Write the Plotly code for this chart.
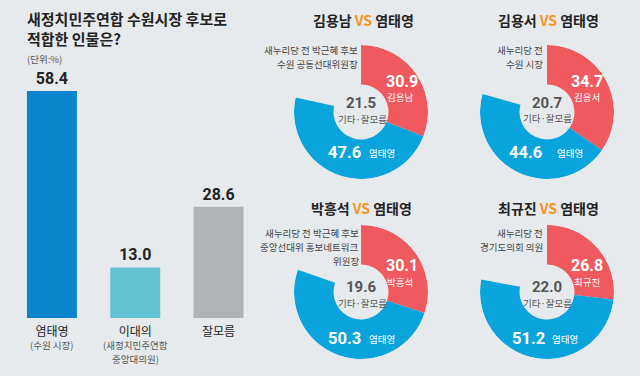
import plotly.graph_objects as go

# ---------------- data ----------------
bar_names = ["염태영", "이대의", "잘모름"]
bar_subs = ["(수원 시장)", "(새정치민주연합<br>중앙대의원)", ""]
bar_values = [58.4, 13.0, 28.6]
bar_colors = ["#0A84CC", "#63C3D2", "#B1B2B6"]

challengers = ["김용남", "김용서", "박흥석", "최규진"]
challenger_desc = [
    "새누리당 전 박근혜 후보<br>수원 공동선대위원장",
    "새누리당 전<br>수원 시장",
    "새누리당 전 박근혜 후보<br>중앙선대위 홍보네트워크<br>위원장",
    "새누리당 전<br>경기도의회 의원",
]
challenger_values = [30.9, 34.7, 30.1, 26.8]
yeom_values = [47.6, 44.6, 50.3, 51.2]
other_values = [21.5, 20.7, 19.6, 22.0]
incumbent = "염태영"
other_label = "기타·잘모름"

title_text = "새정치민주연합 수원시장 후보로<br>적합한 인물은?"
unit_text = "(단위:%)"

# ---------------- style ----------------
W, H = 640, 376
BG = "#E7EAED"
RED = "#F05A5F"
BLUE = "#0AA4DD"
ORANGE = "#F7941D"
FONT = "Noto Sans CJK KR"
NUMFONT = "Roboto"
HOLE = 0.41


def px(x):
    return x / W


def py(y):
    return (H - y) / H


fig = go.Figure()
annotations = []


def ann(x, y, text, size, color="#222", xanchor="center", align="center",
        yanchor="middle", xref="paper", family=FONT):
    annotations.append(dict(
        x=x if xref != "paper" else px(x), y=py(y), xref=xref, yref="paper",
        text=text, showarrow=False, xanchor=xanchor, yanchor=yanchor,
        align=align, borderpad=0,
        font=dict(family=family, size=size, color=color)))


def ann_lines(x, y0, text, size, color, step, **kw):
    for k, line in enumerate(text.split("<br>")):
        ann(x, y0 + k * step, line, size, color, **kw)


# ---------------- bar chart ----------------
fig.add_trace(go.Bar(
    x=bar_names, y=bar_values,
    marker=dict(color=bar_colors, line=dict(width=0)),
    texttemplate="<b>%{y:.1f}</b>", textposition="outside",
    textfont=dict(family=NUMFONT, size=16, color="#222"),
    cliponaxis=False, hoverinfo="skip", width=0.6,
))

fig.update_xaxes(domain=[px(10.3), px(260.2)], range=[-0.5, 2.5],
                 tickvals=bar_names, ticktext=bar_names,
                 tickfont=dict(family=FONT, size=12, color="#222"),
                 ticklabelstandoff=5,
                 showgrid=False, zeroline=False, showline=False, ticks="")
ppu = 227 / 58.4
fig.update_yaxes(domain=[py(318), py(318 - 70 * ppu)], range=[0, 70],
                 visible=False)

for name, sub in zip(bar_names, bar_subs):
    if sub:
        ann_lines(name, 345, sub, 9.5, "#555", 13.8, xref="x")

# ---------------- donuts (ring segments on polar axes) ----------------
centers = [(361, 112), (547, 112), (361, 292), (547, 292)]
R = 67
title_pos = [(363, 20), (548, 20), (361, 208), (548, 208)]
desc_pos = [(359, 50), (544, 50), (360, 233), (544, 233)]
red_num_pos = [(402, 81.5), (587, 81.5), (402, 265.5), (587, 265.5)]
red_name_pos = [(400, 97.5), (587, 97.5), (400, 281.5), (587, 281.5)]
blue_num_pos = [(362, 152), (543, 152), (362, 338), (546, 338)]
blue_name_pos = [(368, 153), (556, 153), (368, 339), (551, 339)]
mid_num_pos = [(361, 103), (547, 102.5), (361, 287), (547, 287)]
mid_lbl_pos = [(362, 119), (547, 118.5), (362, 303), (547, 303)]

polar_layouts = {}
for i, (cx, cy) in enumerate(centers):
    pname = "polar" if i == 0 else "polar%d" % (i + 1)
    c, y = challenger_values[i], yeom_values[i]
    total = c + y + other_values[i]
    deg = 360.0 / total
    fig.add_trace(go.Barpolar(
        theta=[c / 2 * deg, (c + y / 2) * deg],
        width=[c * deg, y * deg],
        r=[1 - HOLE, 1 - HOLE], base=[HOLE, HOLE],
        marker=dict(color=[RED, BLUE], line=dict(width=0)),
        hoverinfo="skip", showlegend=False, subplot=pname,
    ))
    polar_layouts[pname] = dict(
        domain=dict(x=[px(cx - R), px(cx + R)], y=[py(cy + R), py(cy - R)]),
        bgcolor="rgba(0,0,0,0)", bargap=0,
        radialaxis=dict(range=[0, 1], visible=False, showgrid=False),
        angularaxis=dict(rotation=90, direction="clockwise", visible=False,
                         showgrid=False),
    )
    ann(*title_pos[i],
        "<b>" + challengers[i] + " <span style='color:%s'>VS</span> " % ORANGE
        + incumbent + "</b>", 14, "#222")
    ann_lines(desc_pos[i][0], desc_pos[i][1], challenger_desc[i], 9.5,
              "#444", 14, xanchor="right", align="right")
    ann(*red_num_pos[i], "<b>%.1f</b>" % c, 16, "white", family=NUMFONT)
    ann(*red_name_pos[i], challengers[i], 9.5, "white")
    ann(*blue_num_pos[i], "<b>%.1f</b>" % y, 16.5, "white",
        xanchor="right", family=NUMFONT)
    ann(*blue_name_pos[i], incumbent, 9.5, "white", xanchor="left")
    ann(*mid_num_pos[i], "<b>%.1f</b>" % other_values[i], 15, "#555",
        family=NUMFONT)
    ann(*mid_lbl_pos[i], other_label, 9.5, "#555")

# ---------------- title ----------------
ann(26, 7, "<b>" + title_text + "</b>", 15, "#222",
    xanchor="left", align="left", yanchor="top")
ann(26, 58.5, unit_text, 9.5, "#555", xanchor="left", align="left")

fig.update_layout(
    width=W, height=H, margin=dict(l=0, r=0, t=0, b=0),
    paper_bgcolor=BG, plot_bgcolor=BG, showlegend=False,
    annotations=annotations, bargap=0.4,
    font=dict(family=FONT),
    **polar_layouts,
)

fig.write_html(
    "out.html",
    config={"displayModeBar": False},
    post_script="document.body.style.margin='0';"
                "document.body.style.overflow='hidden';",
)
